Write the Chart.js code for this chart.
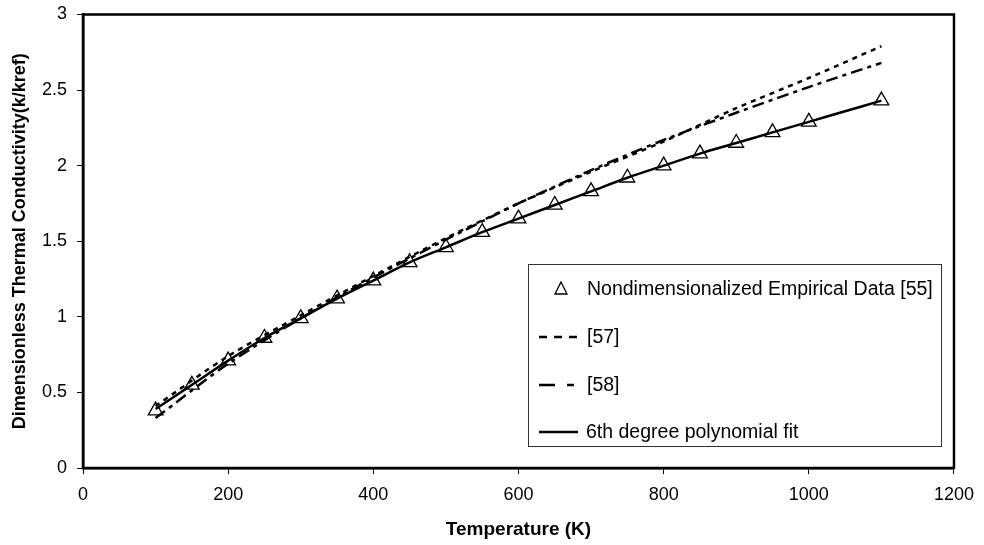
<!DOCTYPE html>
<html>
<head>
<meta charset="utf-8">
<script src="https://cdn.jsdelivr.net/npm/chart.js@4"></script>
<style>
  html, body { margin: 0; padding: 0; background: #fff; }
  #wrap { width: 984px; height: 545px; }
</style>
</head>
<body>
<div id="wrap"><canvas id="chart" width="984" height="545"></canvas></div>
<script>
// ── Data ──────────────────────────────────────────────
const empTemps  = [100, 150, 200, 250, 300, 350, 400, 450, 500, 550, 600, 650, 700, 750, 800, 850, 900, 950, 1000, 1100];
const empValues = [0.38, 0.55, 0.71, 0.86, 0.99, 1.12, 1.24, 1.36, 1.46, 1.56, 1.65, 1.74, 1.83, 1.92, 2.00, 2.08, 2.15, 2.22, 2.29, 2.43];

const refTemps  = [100, 200, 300, 400, 500, 600, 700, 800, 900, 1000, 1100];
const ref57     = [0.41, 0.74, 1.01, 1.27, 1.52, 1.75, 1.96, 2.16, 2.38, 2.58, 2.79];
const ref58     = [0.33, 0.69, 0.99, 1.26, 1.51, 1.75, 1.97, 2.17, 2.35, 2.52, 2.68];

const fitTemps  = [100, 150, 200, 250, 300, 350, 400, 450, 500, 550, 600, 650, 700, 750, 800, 850, 900, 950, 1000, 1050, 1100];
const fitValues = [0.39, 0.55, 0.71, 0.86, 0.99, 1.12, 1.24, 1.36, 1.46, 1.56, 1.65, 1.74, 1.83, 1.92, 2.00, 2.08, 2.15, 2.22, 2.29, 2.36, 2.43];

const legendLabels = ['Nondimensionalized Empirical Data [55]', '[57]', '[58]', '6th degree polynomial fit'];

const xTicks = [0, 200, 400, 600, 800, 1000, 1200];
const yTicks = [0, 0.5, 1, 1.5, 2, 2.5, 3];

const pts = (xs, ys) => xs.map((x, i) => ({ x, y: ys[i] }));

const DASH_57 = [5, 5];
const DASH_58 = [12, 5, 4, 5];

// ── Plugins ───────────────────────────────────────────
const framePlugin = {
  id: 'frame',
  afterDatasetsDraw(chart) {
    const { ctx, chartArea: a } = chart;
    ctx.save();
    ctx.strokeStyle = '#000';
    ctx.lineWidth = 2.5;
    ctx.strokeRect(a.left, a.top, a.right - a.left, a.bottom - a.top);
    ctx.restore();
  }
};

const legendBox = {
  id: 'legendBox',
  afterDraw(chart) {
    const { ctx } = chart;
    const bx = 528, by = 264, bw = 413, bh = 182;
    ctx.save();
    ctx.fillStyle = '#fff';
    ctx.fillRect(bx, by, bw, bh);
    ctx.strokeStyle = '#333';
    ctx.lineWidth = 1;
    ctx.strokeRect(bx + 0.5, by + 0.5, bw, bh);

    ctx.font = '19.5px "Liberation Sans", Arial, sans-serif';
    ctx.fillStyle = '#000';
    ctx.textBaseline = 'middle';
    const rows = [289, 337, 385, 432];

    // triangle marker
    ctx.beginPath();
    ctx.moveTo(561, rows[0] - 7);
    ctx.lineTo(567, rows[0] + 5);
    ctx.lineTo(555, rows[0] + 5);
    ctx.closePath();
    ctx.lineWidth = 1.3;
    ctx.strokeStyle = '#000';
    ctx.stroke();
    ctx.fillText(legendLabels[0], 587, rows[0] + 1);

    const lineSample = (y, dash) => {
      ctx.beginPath();
      ctx.setLineDash(dash);
      ctx.lineWidth = 2.5;
      ctx.moveTo(539, y);
      ctx.lineTo(578, y);
      ctx.stroke();
      ctx.setLineDash([]);
    };
    lineSample(rows[1], [8, 7]);
    ctx.fillText(legendLabels[1], 587, rows[1] + 1);
    lineSample(rows[2], [16, 12, 7, 20]);
    ctx.fillText(legendLabels[2], 587, rows[2] + 1);
    lineSample(rows[3], []);
    ctx.fillText(legendLabels[3], 586, rows[3] + 1);
    ctx.restore();
  }
};

// ── Chart ─────────────────────────────────────────────
const FAMILY = '"Liberation Sans", Arial, sans-serif';

new Chart(document.getElementById('chart'), {
  type: 'line',
  data: {
    datasets: [
      {
        label: legendLabels[3],
        data: pts(fitTemps, fitValues),
        borderColor: '#000',
        borderWidth: 2.5,
        pointRadius: 0,
        tension: 0.3,
        fill: false
      },
      {
        label: legendLabels[1],
        data: pts(refTemps, ref57),
        borderColor: '#000',
        borderWidth: 2.5,
        borderDash: DASH_57,
        pointRadius: 0,
        tension: 0.3,
        fill: false
      },
      {
        label: legendLabels[2],
        data: pts(refTemps, ref58),
        borderColor: '#000',
        borderWidth: 2.5,
        borderDash: DASH_58,
        pointRadius: 0,
        tension: 0.3,
        fill: false
      },
      {
        label: legendLabels[0],
        data: pts(empTemps, empValues),
        showLine: false,
        pointStyle: 'triangle',
        pointRadius: 8.5,
        pointBackgroundColor: 'rgba(255,255,255,0.9)',
        pointBorderColor: '#000',
        pointBorderWidth: 1.3
      }
    ]
  },
  options: {
    responsive: false,
    animation: false,
    layout: { padding: { top: 13, right: 30, left: 0, bottom: 0 } },
    plugins: {
      legend: { display: false },
      tooltip: { enabled: false }
    },
    scales: {
      x: {
        type: 'linear',
        min: 0, max: 1200,
        afterBuildTicks: s => { s.ticks = xTicks.map(v => ({ value: v })); },
        grid: { drawOnChartArea: false, tickLength: 6, color: '#000', lineWidth: 1 },
        border: { color: '#000', width: 2.5 },
        ticks: { font: { family: FAMILY, size: 18 }, color: '#000', padding: 10, maxRotation: 0, callback: v => String(v) },
        title: { display: true, text: 'Temperature (K)', font: { family: FAMILY, size: 19, weight: 'bold' }, color: '#000', padding: { top: 8 } },
        afterFit: s => { s.height = 77; }
      },
      y: {
        min: 0, max: 3,
        afterBuildTicks: s => { s.ticks = yTicks.map(v => ({ value: v })); },
        grid: { drawOnChartArea: false, tickLength: 6, color: '#000', lineWidth: 1 },
        border: { color: '#000', width: 2.5 },
        ticks: { font: { family: FAMILY, size: 18, lineHeight: 0.5 }, color: '#000', padding: 10, callback: v => String(v) },
        title: { display: true, text: 'Dimensionless Thermal Conductivity(k/kref)', font: { family: FAMILY, size: 18, weight: 'bold' }, color: '#000', padding: { top: 9, bottom: 0 } },
        afterFit: s => { s.width = 83; }
      }
    }
  },
  plugins: [framePlugin, legendBox]
});
</script>
</body>
</html>
